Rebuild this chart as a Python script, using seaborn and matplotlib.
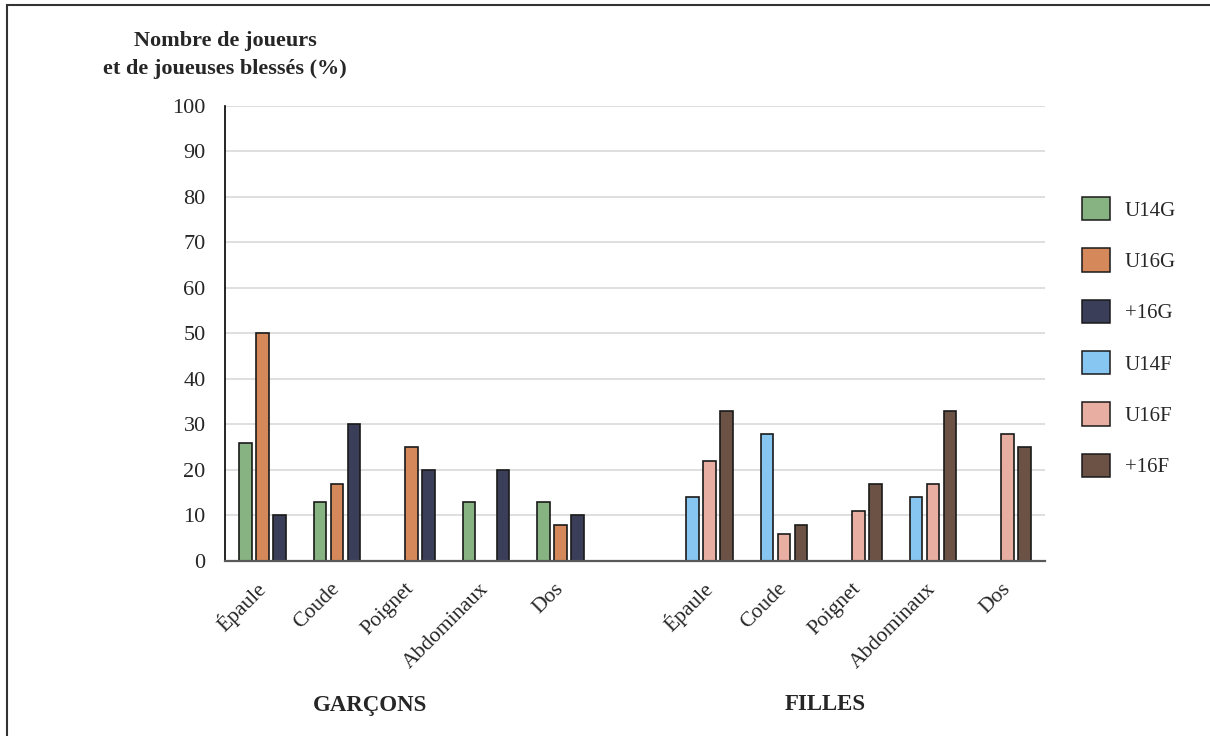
import numpy as np
import pandas as pd
import matplotlib
matplotlib.use("Agg")
import matplotlib.pyplot as plt
from matplotlib.patches import Patch, Rectangle
import seaborn as sns

# body regions, shared by both groups
regions = ["Épaule", "Coude", "Poignet", "Abdominaux", "Dos"]

boys_series = ["U14G", "U16G", "+16G"]
girls_series = ["U14F", "U16F", "+16F"]

# % injured, NaN = no bar
u14g = [26, 13, np.nan, 13, 13]
u16g = [50, 17, 25, np.nan, 8]
p16g = [10, 30, 20, 20, 10]
u14f = [14, 28, np.nan, 14, np.nan]
u16f = [22, 6, 11, 17, 28]
p16f = [33, 8, 17, 33, 25]

y_ticks = list(range(0, 101, 10))

COLORS = {
    "U14G": "#87b382", "U16G": "#d5895a", "+16G": "#3a3e58",
    "U14F": "#87c6f1", "U16F": "#e8aea1", "+16F": "#6b5245",
}
EDGE = "#1a1a1a"

# slot keys: 5 boys categories, an empty one, 5 girls categories
slots = [f"G{i}" for i in range(5)] + ["gap"] + [f"F{i}" for i in range(5)]


def long_form(prefix, names, columns):
    rows = []
    for name, vals in zip(names, columns):
        for i, v in enumerate(vals):
            if not np.isnan(v):
                rows.append({"slot": f"{prefix}{i}", "serie": name, "val": v})
    return pd.DataFrame(rows)


df_g = long_form("G", boys_series, [u14g, u16g, p16g])
df_f = long_form("F", girls_series, [u14f, u16f, p16f])

sns.set_style("white")
plt.rcParams["font.family"] = ["Liberation Serif", "DejaVu Serif"]

fig = plt.figure(figsize=(12.1, 7.36), dpi=100)
ax = fig.add_axes([0.186, 0.2378, 0.8636 - 0.186, 0.856 - 0.2378])

for df, order in [(df_g, boys_series), (df_f, girls_series)]:
    sns.barplot(data=df, x="slot", y="val", hue="serie", order=slots,
                hue_order=order, palette=COLORS, width=0.685, gap=0.26,
                saturation=1, edgecolor=EDGE, linewidth=1.2, legend=False,
                ax=ax, zorder=3)

ax.set_ylim(0, 100)
ax.set_yticks(y_ticks)
ax.set_xlim(-0.5, len(slots) - 0.5)
ax.grid(axis="y", color="#d9d9d9", linewidth=1.2, zorder=0)
ax.set_axisbelow(True)
ax.set_xlabel("")
ax.set_ylabel("")

label_pos = [i for i, s in enumerate(slots) if s != "gap"]
ax.set_xticks(label_pos)
ax.set_xticklabels(regions + regions, rotation=45, ha="right",
                   va="center", rotation_mode="anchor")
ax.tick_params(axis="x", length=0, pad=18, labelsize=15.5)
ax.tick_params(axis="y", length=0, pad=14, labelsize=16)

for side in ["top", "right"]:
    ax.spines[side].set_visible(False)
ax.spines["left"].set_color("black")
ax.spines["left"].set_linewidth(1.2)
ax.spines["bottom"].set_color("#595959")
ax.spines["bottom"].set_linewidth(1.6)
ax.spines["bottom"].set_zorder(4)

# y axis title above the axis
fig.text(0.186, 1 - 55 / 736, "Nombre de joueurs\net de joueuses blessés (%)",
         ha="center", va="center", fontsize=16, fontweight="bold",
         linespacing=1.55)

fig.text(370 / 1210, 1 - 705 / 736, "GARÇONS", ha="center", va="center",
         fontsize=16.5, fontweight="bold")
fig.text(825 / 1210, 1 - 705 / 736, "FILLES", ha="center", va="center",
         fontsize=16.5, fontweight="bold")

handles = [Patch(facecolor=COLORS[s], edgecolor=EDGE, linewidth=1.1)
           for s in boys_series + girls_series]
fig.legend(handles, boys_series + girls_series, loc="upper left",
           bbox_to_anchor=(1082 / 1210, 1 - 197 / 736), frameon=False,
           fontsize=15, handlelength=1.35, handleheight=1.35,
           labelspacing=1.33, handletextpad=0.7, borderpad=0,
           borderaxespad=0)

# outer frame (only the top and left edges fall inside the picture)
fig.add_artist(Rectangle((7 / 1210, -0.1), 1.2, 1.1 - 5 / 736, fill=False,
                         edgecolor="#333333", linewidth=1.5,
                         transform=fig.transFigure, clip_on=False))

plt.savefig("out.png", dpi=100, facecolor="white")
plt.close()
